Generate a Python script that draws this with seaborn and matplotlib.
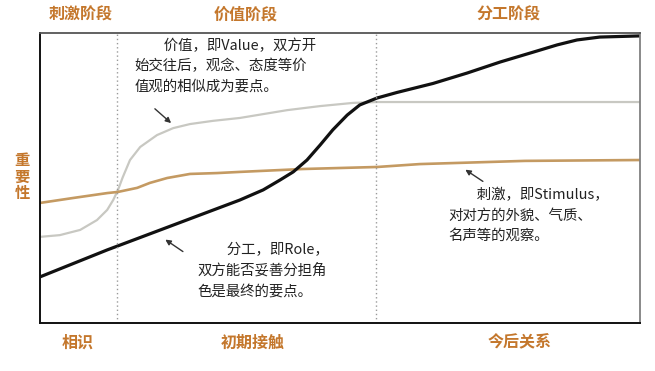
# plot.py
# stage model of relationship development (stimulus / value / role)

import pandas as pd
import matplotlib
matplotlib.use("Agg")
import matplotlib.pyplot as plt
import seaborn as sns

# curve points (x: 0-100 across the box, y: 0-100)
role_x = [0, 11.2, 33.3, 37.2, 40.0, 42.2, 44.5, 46.7, 48.8, 51.2, 53.3, 56.2,
          59.5, 65.5, 71.2, 76.7, 82.2, 86.2, 89.5, 93.3, 100]
role_y = [15.9, 25.2, 42.4, 45.9, 49.3, 52.1, 56.2, 61.4, 66.6, 71.7, 75.2, 77.6,
          79.5, 82.6, 86.2, 90.0, 93.4, 95.9, 97.6, 98.6, 99.0]

value_x = [0, 3.3, 6.7, 9.5, 11.2, 12.2, 13.0, 13.8, 15.0, 16.7, 19.5, 22.2,
           25.0, 28.8, 33.3, 41.2, 46.7, 52.2, 56.2, 63.3, 100]
value_y = [29.7, 30.3, 32.1, 35.5, 39.0, 42.4, 45.9, 50.3, 56.2, 60.7, 64.8, 67.2,
           68.6, 69.7, 70.7, 73.4, 74.8, 75.9, 76.2, 76.2, 76.2]

stim_x = [0, 5.5, 11.2, 13.0, 16.2, 18.3, 21.2, 25.0, 29.5, 33.3, 43.8, 56.2,
          63.3, 80.8, 100]
stim_y = [41.4, 43.1, 44.8, 45.2, 46.6, 48.3, 50.0, 51.4, 51.7, 52.1, 53.1, 53.8,
          54.8, 55.9, 56.2]

stage_bounds = [12.8, 56.0]
top_labels = ["刺激阶段", "价值阶段", "分工阶段"]
top_label_x = [6.7, 34.3, 78.0]
bottom_labels = ["相识", "初期接触", "今后关系"]
bottom_label_x = [6.3, 35.5, 80.0]

value_note = "\u3000\u3000价值，即Value，双方开\n始交往后，观念、态度等价\n值观的相似成为要点。"
stim_note = "\u3000\u3000刺激，即Stimulus，\n对对方的外貌、气质、\n名声等的观察。"
role_note = "\u3000\u3000分工，即Role，\n双方能否妥善分担角\n色是最终的要点。"

LABEL_COLOR = "#c4772c"

sns.set_style("white")
plt.rcParams["font.family"] = ["Noto Sans CJK SC", "DejaVu Sans"]

fig = plt.figure(figsize=(6.55, 3.71), dpi=100)
ax = fig.add_axes([40 / 655, 1 - 323 / 371, 600 / 655, 290 / 371])

sns.lineplot(x=value_x, y=value_y, ax=ax, color="#c8c8c2", linewidth=1.6)
sns.lineplot(x=stim_x, y=stim_y, ax=ax, color="#c49a62", linewidth=1.9)
sns.lineplot(x=role_x, y=role_y, ax=ax, color="#111111", linewidth=2.3)

for b in stage_bounds:
    ax.axvline(b, color="#9a9a9a", linestyle=(0, (1, 2)), linewidth=1.0)

ax.set_xlim(0, 100)
ax.set_ylim(0, 100)
ax.set_xticks([])
ax.set_yticks([])
ax.set_xlabel("")
ax.set_ylabel("")
for side in ["left", "bottom"]:
    ax.spines[side].set_color("#111111")
    ax.spines[side].set_linewidth(1.4)
ax.spines["top"].set_color("#555555")
ax.spines["top"].set_linewidth(1.3)
ax.spines["right"].set_color("#808080")
ax.spines["right"].set_linewidth(1.3)

# stage labels
for lbl, x in zip(top_labels, top_label_x):
    ax.text(x, 106.2, lbl, ha="center", va="center", fontsize=11.5,
            fontweight="bold", color=LABEL_COLOR, clip_on=False)
for lbl, x in zip(bottom_labels, bottom_label_x):
    ax.text(x, -6.8, lbl, ha="center", va="center", fontsize=11.5,
            fontweight="bold", color=LABEL_COLOR, clip_on=False)
ax.text(-3.0, 50.5, "重\n要\n性", ha="center", va="center", fontsize=11,
        fontweight="bold", color=LABEL_COLOR, linespacing=1.05, clip_on=False)

# notes with arrows
arrow = dict(arrowstyle="-|>", color="#333333", lw=1.0, mutation_scale=8)
ax.annotate("", xy=(22.2, 68.3), xytext=(18.8, 74.5), arrowprops=arrow)
ax.annotate("", xy=(70.5, 53.4), xytext=(74.2, 48.3), arrowprops=arrow)
ax.annotate("", xy=(20.5, 29.3), xytext=(24.2, 24.1), arrowprops=arrow)

note_kw = dict(ha="left", va="top", fontsize=10.4, color="#222222",
               linespacing=1.55)
ax.text(15.8, 98.2, value_note, **note_kw)
ax.text(68.0, 46.5, stim_note, **note_kw)
ax.text(26.3, 27.5, role_note, **note_kw)

fig.savefig("out.png", dpi=100)
plt.close(fig)
